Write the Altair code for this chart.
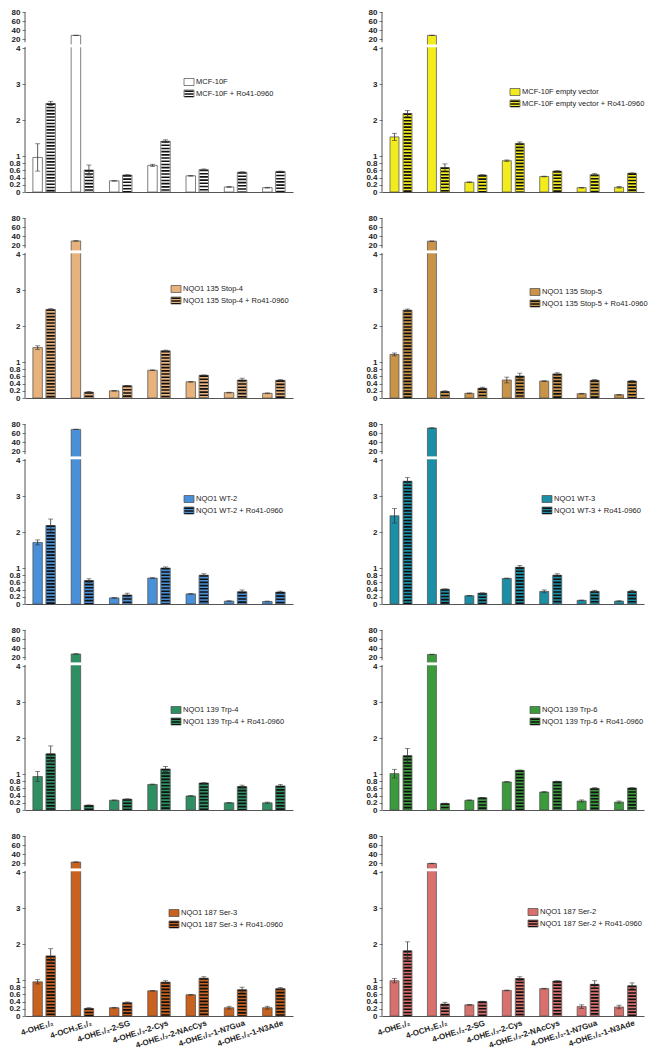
import altair as alt
import pandas as pd

categories = ["4-OHE₁/₂", "4-OCH₃E₁/₂", "4-OHE₁/₂-2-SG", "4-OHE₁/₂-2-Cys",
              "4-OHE₁/₂-2-NAcCys", "4-OHE₁/₂-1-N7Gua", "4-OHE₁/₂-1-N3Ade"]

panel_names = ["MCF-10F", "MCF-10F empty vector",
               "NQO1 135 Stop-4", "NQO1 135 Stop-5",
               "NQO1 WT-2", "NQO1 WT-3",
               "NQO1 139 Trp-4", "NQO1 139 Trp-6",
               "NQO1 187 Ser-3", "NQO1 187 Ser-2"]

panel_colors = ["#ffffff", "#f2ec1e",
                "#e8b27c", "#c9944a",
                "#4a90d8", "#1c8ea6",
                "#2e9062", "#3a9a3c",
                "#c8621e", "#d8716e"]

ctrl_vals = [
    [0.96, 28.0, 0.31, 0.74, 0.45, 0.14, 0.12],
    [1.53, 28.0, 0.27, 0.87, 0.43, 0.12, 0.13],
    [1.40, 29.0, 0.20, 0.77, 0.45, 0.15, 0.13],
    [1.21, 28.5, 0.13, 0.50, 0.47, 0.12, 0.09],
    [1.71, 68.0, 0.17, 0.72, 0.28, 0.08, 0.07],
    [2.45, 71.0, 0.23, 0.71, 0.35, 0.10, 0.08],
    [0.93, 26.7, 0.27, 0.71, 0.39, 0.20, 0.20],
    [1.01, 25.7, 0.27, 0.78, 0.50, 0.25, 0.22],
    [0.95, 22.0, 0.23, 0.70, 0.59, 0.23, 0.23],
    [0.98, 19.0, 0.31, 0.71, 0.76, 0.26, 0.25],
]
ctrl_err = [
    [0.38, 0.5, 0.01, 0.03, 0.01, 0.01, 0.01],
    [0.10, 0.5, 0.01, 0.02, 0.01, 0.01, 0.02],
    [0.05, 0.5, 0.01, 0.01, 0.01, 0.01, 0.01],
    [0.04, 0.5, 0.01, 0.08, 0.01, 0.01, 0.01],
    [0.07, 0.5, 0.01, 0.01, 0.01, 0.01, 0.01],
    [0.20, 0.5, 0.01, 0.01, 0.04, 0.01, 0.01],
    [0.14, 0.5, 0.01, 0.01, 0.01, 0.01, 0.02],
    [0.12, 0.5, 0.01, 0.01, 0.01, 0.03, 0.03],
    [0.06, 0.5, 0.01, 0.01, 0.01, 0.04, 0.04],
    [0.06, 0.5, 0.01, 0.01, 0.01, 0.05, 0.05],
]
ro_vals = [
    [2.46, 0.61, 0.47, 1.41, 0.62, 0.55, 0.57],
    [2.18, 0.68, 0.47, 1.35, 0.58, 0.48, 0.52],
    [2.46, 0.16, 0.34, 1.31, 0.63, 0.50, 0.49],
    [2.44, 0.18, 0.27, 0.61, 0.67, 0.49, 0.47],
    [2.18, 0.65, 0.25, 1.00, 0.80, 0.34, 0.33],
    [3.41, 0.41, 0.30, 1.02, 0.80, 0.35, 0.35],
    [1.56, 0.13, 0.30, 1.14, 0.75, 0.65, 0.67],
    [1.51, 0.18, 0.34, 1.10, 0.79, 0.60, 0.61],
    [1.67, 0.21, 0.37, 0.94, 1.05, 0.73, 0.76],
    [1.81, 0.33, 0.40, 1.04, 0.97, 0.88, 0.84],
]
ro_err = [
    [0.06, 0.14, 0.01, 0.04, 0.02, 0.01, 0.01],
    [0.08, 0.10, 0.01, 0.04, 0.01, 0.03, 0.01],
    [0.02, 0.02, 0.01, 0.02, 0.01, 0.05, 0.02],
    [0.03, 0.02, 0.03, 0.08, 0.03, 0.02, 0.02],
    [0.18, 0.05, 0.05, 0.03, 0.04, 0.05, 0.03],
    [0.10, 0.01, 0.01, 0.05, 0.04, 0.03, 0.03],
    [0.22, 0.01, 0.01, 0.07, 0.01, 0.04, 0.04],
    [0.20, 0.01, 0.01, 0.01, 0.01, 0.02, 0.01],
    [0.20, 0.02, 0.02, 0.04, 0.04, 0.07, 0.03],
    [0.25, 0.05, 0.01, 0.05, 0.01, 0.10, 0.08],
]

# layout (pixels)
H = 180
WIDTHS = [268, 262]
BAR_W = [9.5, 9.0]
LEGEND_POS = [(159, 70), (128, 80), (146, 71), (148, 74), (159, 75),
              (160, 75), (146, 80), (148, 80), (144, 77), (146, 76)]
AXIS_COLOR = "#555555"
FONT = "Liberation Sans"
LEG_FONT = 7.5

tick_values = [0, 0.2, 0.4, 0.6, 0.8, 1, 2, 3, 4, 4.25, 4.5, 4.75, 5]
label_expr = ("datum.value > 4.01 ? '' + round((datum.value - 4) * 80) : "
              "((datum.value > 0.99 || datum.value < 0.01) ? '' + round(datum.value) : "
              "format(datum.value, '.1f'))")

yaxis = alt.Axis(values=tick_values, labelExpr=label_expr, domain=False, grid=False,
                 tickSize=3, tickColor=AXIS_COLOR, tickWidth=0.8, labelFont=FONT,
                 labelFontSize=8, labelFontWeight="bold", labelColor="#222222",
                 labelPadding=2, labelOverlap=False, title=None)


def disp_expr(f):
    return f"({f}) <= 4 ? ({f}) : 4 + ({f}) / 80"


def panel(i, col, show_x):
    df = pd.DataFrame({
        "cat": categories * 2,
        "series": ["a"] * 7 + ["b"] * 7,
        "v": ctrl_vals[i] + ro_vals[i],
        "e": ctrl_err[i] + ro_err[i],
    })
    bw = BAR_W[col]
    color = panel_colors[i]
    if show_x:
        xaxis = alt.Axis(title=None, ticks=False, domainColor=AXIS_COLOR, domainWidth=1,
                         labelAngle=-18, labelAlign="right", labelBaseline="top",
                         labelFont=FONT, labelFontSize=8, labelFontWeight="bold",
                         labelColor="#222222", labelPadding=3, labelOffset=8,
                         labelLimit=200, labelOverlap=False)
    else:
        xaxis = alt.Axis(title=None, ticks=False, labels=False, domainColor=AXIS_COLOR,
                         domainWidth=1)
    xenc = alt.X("cat:N", sort=categories, axis=xaxis,
                 scale=alt.Scale(paddingInner=0.32, paddingOuter=0.16))
    xo = alt.XOffset("series:N", scale=alt.Scale(domain=["a", "b"], paddingInner=0,
                                                 paddingOuter=0))
    yscale = alt.Scale(domain=[0, 5], nice=False, zero=True)

    base = alt.Chart(df).transform_calculate(
        disp=disp_expr("datum.v"),
        hi=disp_expr("datum.v + datum.e"),
        lo=disp_expr("datum.v - datum.e"),
    )
    bars = base.mark_bar(width=bw, stroke="#4a4a4a", strokeWidth=0.7, color=color).encode(
        x=xenc, xOffset=xo,
        y=alt.Y("disp:Q", scale=yscale, axis=yaxis),
    )
    stripes = base.transform_filter("datum.series == 'b'").mark_rule(
        color="#111111", strokeWidth=bw - 1.2, strokeDash=[1.6, 1.6]).encode(
        x=xenc, xOffset=xo,
        y=alt.Y("disp:Q", scale=yscale, axis=yaxis),
        y2=alt.Y2Datum(0),
    )
    brk = base.transform_filter("datum.v > 4").mark_rule(
        color="white", strokeWidth=bw + 3).encode(
        x=xenc, xOffset=xo,
        y=alt.YDatum(4.02, scale=yscale, axis=yaxis),
        y2=alt.Y2Datum(4.1),
    )
    err = base.mark_rule(color="#333333", strokeWidth=0.8).encode(
        x=xenc, xOffset=xo,
        y=alt.Y("lo:Q", scale=yscale, axis=yaxis), y2="hi:Q",
    )
    cap_hi = base.mark_tick(color="#333333", thickness=0.8, size=5).encode(
        x=xenc, xOffset=xo, y=alt.Y("hi:Q", scale=yscale, axis=yaxis))
    cap_lo = base.mark_tick(color="#333333", thickness=0.8, size=5).encode(
        x=xenc, xOffset=xo, y=alt.Y("lo:Q", scale=yscale, axis=yaxis))

    one = alt.Data(values=[{"k": 1}])
    axline_lo = alt.Chart(one).mark_rule(color=AXIS_COLOR, strokeWidth=1).encode(
        x=alt.value(0), y=alt.YDatum(0, scale=yscale, axis=yaxis), y2=alt.Y2Datum(4.03))
    axline_hi = alt.Chart(one).mark_rule(color=AXIS_COLOR, strokeWidth=1).encode(
        x=alt.value(0), y=alt.YDatum(4.16, scale=yscale, axis=yaxis), y2=alt.Y2Datum(5))

    lx, ly = LEGEND_POS[i]
    sw, sh, gap = 10, 7, 11.5
    leg_a = alt.Chart(one).mark_rect(fill=color, stroke="#4a4a4a", strokeWidth=0.7).encode(
        x=alt.value(lx), x2=alt.value(lx + sw),
        y=alt.value(ly - sh / 2), y2=alt.value(ly + sh / 2))
    leg_b = alt.Chart(one).mark_rect(fill=color, stroke="#4a4a4a", strokeWidth=0.7).encode(
        x=alt.value(lx), x2=alt.value(lx + sw),
        y=alt.value(ly + gap - sh / 2), y2=alt.value(ly + gap + sh / 2))
    leg_b_str = alt.Chart(one).mark_rule(color="#111111", strokeWidth=sw - 1,
                                         strokeDash=[1.4, 1.4]).encode(
        x=alt.value(lx + sw / 2), y=alt.value(ly + gap - sh / 2 + 0.5),
        y2=alt.value(ly + gap + sh / 2))
    leg_t1 = alt.Chart(one).mark_text(align="left", baseline="middle", font=FONT,
                                      fontSize=LEG_FONT, color="#222222").encode(
        x=alt.value(lx + sw + 2), y=alt.value(ly), text=alt.value(panel_names[i]))
    leg_t2 = alt.Chart(one).mark_text(align="left", baseline="middle", font=FONT,
                                      fontSize=LEG_FONT, color="#222222").encode(
        x=alt.value(lx + sw + 2), y=alt.value(ly + gap),
        text=alt.value(panel_names[i] + " + Ro41-0960"))

    return alt.layer(bars, stripes, brk, err, cap_hi, cap_lo, axline_lo, axline_hi,
                     leg_a, leg_b, leg_b_str, leg_t1, leg_t2).properties(
        width=WIDTHS[col], height=H)


rows = []
for r in range(5):
    left = panel(2 * r, 0, r == 4)
    right = panel(2 * r + 1, 1, r == 4)
    rows.append(alt.hconcat(left, right, spacing=72))

chart = alt.vconcat(*rows, spacing=17).properties(padding=0).configure_view(stroke=None)

chart.save("out.html", embed_options={"renderer": "svg", "actions": False})
